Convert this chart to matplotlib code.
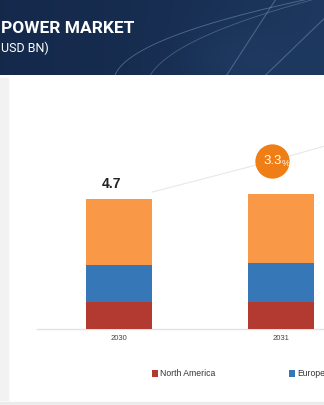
import numpy as np
import matplotlib.pyplot as plt
from matplotlib.patches import Rectangle

# data (USD BN)
years = ["2030", "2031"]
north_america = [0.98, 0.98]
europe = [1.34, 1.41]
rest = [2.39, 2.49]
totals = [4.7, 4.88]
total_label = "4.7"
cagr = "3.3"

c_na = "#B23A30"
c_eu = "#3677B7"
c_rest = "#F99846"
c_cagr = "#F07E16"

plt.rcParams["font.family"] = ["Liberation Sans", "DejaVu Sans"]

W, H = 324, 405
fig = plt.figure(figsize=(W / 100, H / 100), dpi=100)
fig.patch.set_facecolor("white")

# page chrome: light strips on the left and bottom
fig.patches.append(Rectangle((0, 5 / H), 8 / W, 322 / H, transform=fig.transFigure,
                             color="#f2f2f2", zorder=0))
fig.patches.append(Rectangle((0, 0), 1, 3 / H, transform=fig.transFigure,
                             color="#ececec", zorder=0))

# header band
hdr = fig.add_axes([0, 1 - 75 / H, 1, 75 / H])
gx = np.linspace(0, 1, 200)
gy = np.linspace(0, 1, 40)
X, Y = np.meshgrid(gx, gy)
base = 0.2 + 0.35 * X ** 1.5 + 0.15 * np.exp(-((X - 0.75) ** 2) / 0.03 - ((Y - 0.2) ** 2) / 0.2)
rgb = np.dstack([0.06 + 0.10 * base, 0.13 + 0.16 * base, 0.25 + 0.22 * base])
hdr.imshow(np.clip(rgb, 0, 1), aspect="auto", extent=[0, 1, 0, 1], origin="lower")
t = np.linspace(0, 1, 100)
hdr.plot(0.35 + 0.7 * t, -0.1 + 1.2 * np.sqrt(t), color="#8fa6c4", lw=0.6, alpha=0.5)
hdr.plot(0.45 + 0.6 * t, -0.2 + 1.3 * np.sqrt(t), color="#8fa6c4", lw=0.6, alpha=0.4)
hdr.plot([0.7, 0.85], [0.0, 1.0], color="#8fa6c4", lw=0.8, alpha=0.4)
hdr.plot([0.82, 1.0], [0.0, 0.75], color="#8fa6c4", lw=0.8, alpha=0.4)
hdr.set_xlim(0, 1)
hdr.set_ylim(0, 1)
hdr.axis("off")
hdr.text(0.002, 0.62, "POWER MARKET", color="white", fontsize=12.5, fontweight="bold",
         family=["Roboto", "DejaVu Sans"], va="center", ha="left")
hdr.text(0.002, 0.36, "USD BN)", color="white", fontsize=9,
         family=["Roboto", "DejaVu Sans"], va="center", ha="left")

# chart
ax = fig.add_axes([37 / W, (H - 329) / H, (W - 37) / W, (329 - 90) / H])
x = np.arange(len(years))
width = 0.409
ax.bar(x, north_america, width, color=c_na, label="North America", zorder=3)
ax.bar(x, europe, width, bottom=north_america, color=c_eu, label="Europe", zorder=3)
bottom2 = np.array(north_america) + np.array(europe)
ax.bar(x, rest, width, bottom=bottom2, color=c_rest, zorder=3)

ax.text(x[0] - 0.045, totals[0] + 0.3, total_label, ha="center", va="bottom",
        fontsize=10, fontweight="bold", color="#222222")

# CAGR bubble and faint trend line
bx, by = x[1] - 0.05, totals[1] + 1.2
ax.plot([x[0] + width / 2, bx, 1.3], [totals[0] + 0.25, by, by + 0.58],
        color="#e8e8e8", lw=0.8, zorder=1)
ax.scatter([bx], [by], s=610, color=c_cagr, zorder=4, linewidths=0)
ax.text(bx + 0.055, by, cagr, ha="right", va="center", color="white", fontsize=9.5, zorder=5)
ax.text(bx + 0.055, by - 0.08, "%", ha="left", va="center", color="white", fontsize=6.5, zorder=5)

ax.set_xlim(-0.508, 1.269)
ax.set_ylim(0, (329 - 90) * 4.7 / 130)
ax.set_xticks(x)
ax.set_xticklabels(years, fontsize=5.5, color="#444444")
ax.tick_params(axis="x", length=0, pad=4)
ax.set_yticks([])
for s in ["top", "right", "left"]:
    ax.spines[s].set_visible(False)
ax.spines["bottom"].set_color("#e3e3e3")
ax.spines["bottom"].set_linewidth(1.0)

leg = fig.legend(loc="center left", bbox_to_anchor=(148 / W, (H - 374) / H), ncol=2,
                 frameon=False, fontsize=6.2, handlelength=0.7, handleheight=0.7,
                 handletextpad=0.2, columnspacing=8.6, borderpad=0)
for txt in leg.get_texts():
    txt.set_color("#333333")

fig.savefig("out.png", dpi=100, facecolor="white")
